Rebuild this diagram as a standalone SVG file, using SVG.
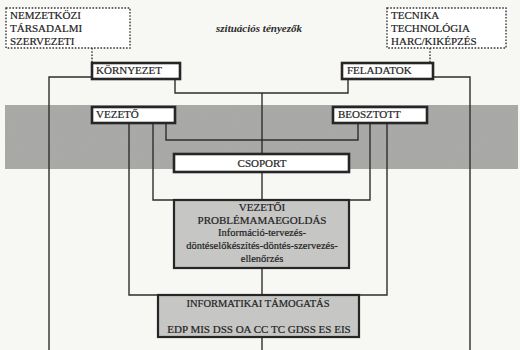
<svg xmlns="http://www.w3.org/2000/svg" width="520" height="350" viewBox="0 0 520 350">
<defs>
<style>
.bg{fill:#f7f7f4}
.band{fill:#aaaaa8}
.box{fill:#ffffff;stroke:#262626;stroke-width:2.6}
.gbox{fill:#c6c6c4;stroke:#262626;stroke-width:2.2}
.dot{fill:#ffffff;stroke:#333;stroke-width:1.4;stroke-dasharray:1.6 1.6}
.ln{fill:none;stroke:#2e2e2e;stroke-width:1.4}
.dl{fill:none;stroke:#333;stroke-width:1.4;stroke-dasharray:1.6 1.6}
text{font-family:"Liberation Serif","DejaVu Serif","Times New Roman",serif}
.t{font-size:11px;fill:#1e1e1e;stroke:#1e1e1e;stroke-width:0.2}
.s{font-size:10.5px}
.c{text-anchor:middle}
.it{font-size:11px;font-style:italic;font-weight:bold;fill:#2a2a2a}
</style>
<filter id="noise" x="0" y="0" width="100%" height="100%">
<feTurbulence type="fractalNoise" baseFrequency="0.9" numOctaves="2" seed="3" result="n"/>
<feColorMatrix type="matrix" values="0 0 0 0 0.3  0 0 0 0 0.3  0 0 0 0 0.3  0 0 0 0.6 -0.15"/>
</filter>
</defs>
<rect class="bg" x="0" y="0" width="520" height="350"/>
<rect class="band" x="5" y="105" width="513" height="64"/>
<rect x="5" y="105" width="513" height="64" filter="url(#noise)" opacity="0.4"/>

<text class="it" x="259" y="32" text-anchor="middle" font-family="Liberation Serif, serif">szituációs tényezők</text>

<g id="connectors">
<path class="dl" d="M92 48V63"/>
<path class="dl" d="M430 48V63"/>
<path class="ln" d="M91 77H49V350"/>
<path class="ln" d="M433 77H470V350"/>
<path class="ln" d="M175 79V93H348V79"/>
<path class="ln" d="M262 93V154"/>
<path class="ln" d="M166 123V140H358V123"/>
<path class="ln" d="M153 123V200H370V123"/>
<path class="ln" d="M262 172V200"/>
<path class="ln" d="M129 123V295H387V123"/>
<path class="ln" d="M262 268V295"/>
<path class="ln" d="M262 337V350"/>
</g>

<g id="nemzetkozi" font-family="Liberation Serif, serif">
<rect class="dot" x="6" y="8" width="124" height="40"/>
<text class="t" x="10" y="19">NEMZETKÖZI</text>
<text class="t" x="10" y="32">TÁRSADALMI</text>
<text class="t" x="10" y="45">SZERVEZETI</text>
</g>

<g id="tecnika" font-family="Liberation Serif, serif">
<rect class="dot" x="387" y="8" width="119" height="40"/>
<text class="t" x="391" y="19">TECNIKA</text>
<text class="t" x="391" y="32">TECHNOLÓGIA</text>
<text class="t" x="391" y="45">HARC/KIKÉPZÉS</text>
</g>

<g id="kornyezet">
<rect class="box" x="92" y="63" width="88" height="16"/>
<text class="t" x="96" y="74">KÖRNYEZET</text>
</g>

<g id="feladatok">
<rect class="box" x="342" y="63" width="91" height="16"/>
<text class="t" x="347" y="74">FELADATOK</text>
</g>

<g id="vezeto">
<rect class="box" x="92" y="107" width="83" height="16"/>
<text class="t" x="96" y="118">VEZETŐ</text>
</g>

<g id="beosztott">
<rect class="box" x="333" y="107" width="94" height="16"/>
<text class="t" x="338" y="118">BEOSZTOTT</text>
</g>

<g id="csoport">
<rect class="box" x="174" y="154" width="175" height="18"/>
<text class="t c" x="262" y="167">CSOPORT</text>
</g>

<g id="problemamegoldas">
<rect class="gbox" x="174" y="200" width="175" height="68"/>
<text class="t c" x="262" y="211" font-size="10">VEZETŐI</text>
<text class="t c" x="262" y="224" font-size="10">PROBLÉMAMAEGOLDÁS</text>
<text class="t s c" x="262" y="236">Információ-tervezés-</text>
<text class="t s c" x="262" y="249">döntéselőkészítés-döntés-szervezés-</text>
<text class="t s c" x="262" y="262">ellenőrzés</text>
</g>

<g id="informatikai">
<rect class="gbox" x="158" y="295" width="201" height="42"/>
<text class="t s c" x="258" y="307">INFORMATIKAI TÁMOGATÁS</text>
<text class="t c" x="259" y="333" font-size="11.5">EDP MIS DSS OA CC TC GDSS ES EIS</text>
</g>
</svg>
